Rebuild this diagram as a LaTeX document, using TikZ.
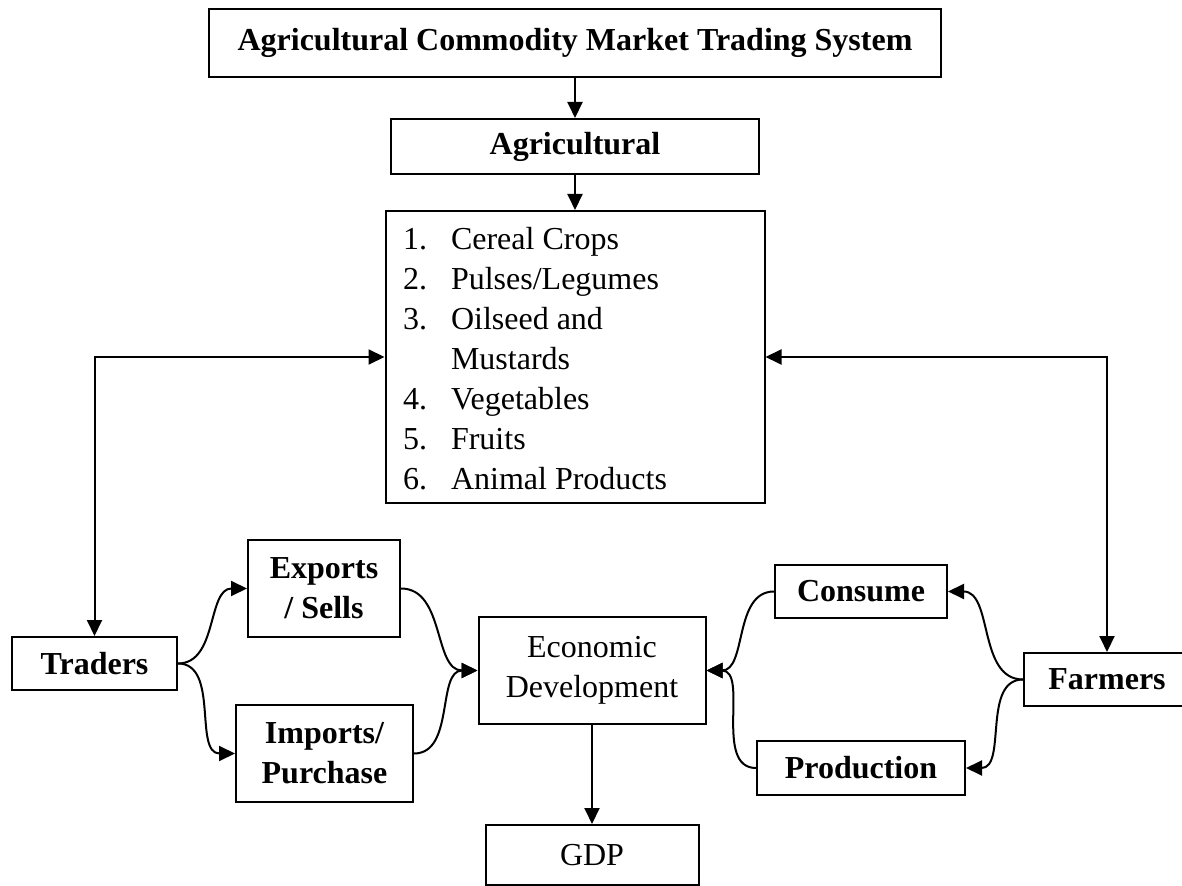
\documentclass[tikz,border=0pt]{standalone}
\usepackage{fontspec}
\setmainfont{Liberation Serif}
\usepackage{tikz}
\usetikzlibrary{positioning}
\usetikzlibrary{arrows.meta}
\tikzset{
thickness/.style={line width=1pt},
box/.style 2 args={draw, thickness, rectangle, inner sep=0pt, minimum width=#1, minimum height=#2, align=center},
boldbox/.style 2 args={box={#1}{#2}, font=\fontsize{16}{20}\selectfont\bfseries},
link/.style={thickness, -{Triangle[length=8pt,width=7.5pt]}},
twoway/.style={thickness, {Triangle[length=8pt,width=7.5pt]}-{Triangle[length=8pt,width=7.5pt]}},
}

\begin{document}
\begin{tikzpicture}[x=0.5pt, y=-0.5pt, font=\fontsize{16}{20}\selectfont]
\useasboundingbox (0,0) rectangle (1182,886);
%Place the nodes
\node[boldbox={366pt}{34pt}] (title) at (575,43) {Agricultural Commodity Market Trading System};
\node[boldbox={184pt}{27.5pt}] (agri) at (575,146.5) {Agricultural};
\node[box={189.5pt}{146pt}] (list) at (575,357) {%
\begin{tabular}{@{}p{24pt}@{}l@{}}
\noalign{\vspace{5pt}}
1. & Cereal Crops\\
2. & Pulses/Legumes\\
3. & Oilseed and\\
   & Mustards\\
4. & Vegetables\\
5. & Fruits\\
6. & Animal Products
\end{tabular}\hspace{40pt}};

\node[boldbox={82.5pt}{26.5pt}] (traders) at (94.5,663.5) {Traders};
\node[boldbox={76pt}{48.5pt}] (exports) at (324,588.5) {Exports\\/ Sells};
\node[boldbox={88.5pt}{48.5pt}] (imports) at (324.5,753.5) {Imports/\\Purchase};
\node[box={113.5pt}{53.5pt}] (econ) at (592,670.5) {Economic\\Development};
\node[box={106.5pt}{30pt}] (gdp) at (592,855) {GDP};
\node[boldbox={86pt}{26.5pt}] (consume) at (861,591.5) {Consume};
\node[boldbox={104pt}{27pt}] (production) at (861,768) {Production};
\node[boldbox={83pt}{26.5pt}] (farmers) at (1107,679.5) {Farmers};

%
\draw[link] (title) to (agri);
\draw[link] (agri) to (list);
\draw[link] (econ) to (gdp);

%
\draw[twoway] (list.west) -| (traders.north);
\draw[twoway] (list.east) -| (farmers.north);

%
\draw[link] (traders.east) to[out=0, in=180] (exports.west);
\draw[link] (traders.east) to[out=0, in=180] (imports.west);
\draw[link] (exports.east) to[out=0, in=180] (econ.west);
\draw[link] (imports.east) to[out=0, in=180] (econ.west);

%
\draw[link] (farmers.west) to[out=180, in=0] (consume.east);
\draw[link] (farmers.west) to[out=180, in=0] (production.east);
\draw[link] (consume.west) to[out=180, in=0] (econ.east);
\draw[link] (production.west) to[out=180, in=0] (econ.east);

\end{tikzpicture}
\end{document}
